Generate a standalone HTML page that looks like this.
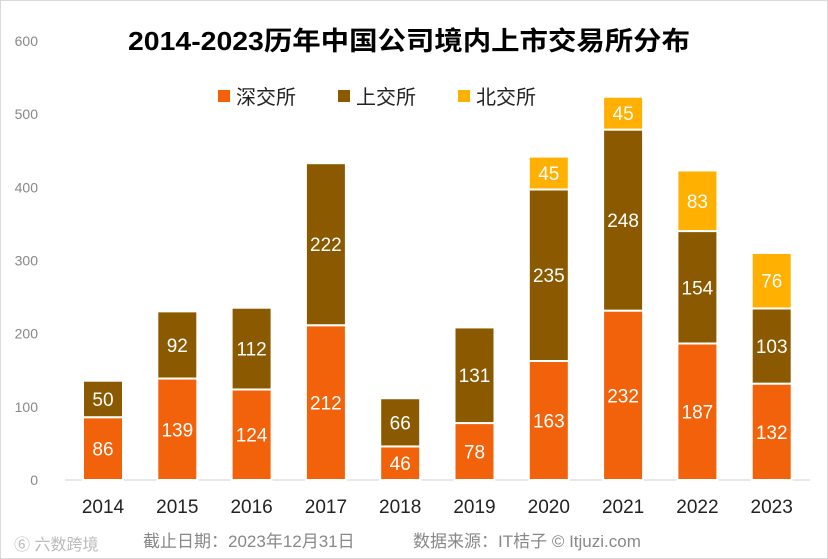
<!DOCTYPE html>
<html><head><meta charset="utf-8"><style>
body{margin:0;background:#fff;}
svg{display:block;font-family:"Liberation Sans","Noto Sans CJK SC",sans-serif;}
</style></head><body>
<svg id="c" width="828" height="559">
<rect x="0.5" y="0.5" width="827" height="558" fill="#fff" stroke="#d9d9d9"/>
<text x="128" y="50" textLength="562" lengthAdjust="spacingAndGlyphs" font-size="26" font-weight="bold" fill="#000">2014-2023历年中国公司境内上市交易所分布</text>
<g>
<g><rect x="218" y="90" width="12" height="12" fill="#f2620a"/><text x="236" y="104" font-size="20" fill="#222">深交所</text></g>
<g><rect x="338" y="90" width="12" height="12" fill="#8b5a00"/><text x="356" y="104" font-size="20" fill="#222">上交所</text></g>
<g><rect x="458" y="90" width="12" height="12" fill="#ffb000"/><text x="476" y="104" font-size="20" fill="#222">北交所</text></g>
</g>
<g id="axes"></g><g id="bars"></g>
<text x="143" y="547" font-size="17" fill="#888">截止日期：2023年12月31日</text>
<text x="413" y="547" font-size="17" fill="#888">数据来源：IT桔子 © Itjuzi.com</text>
<text x="14" y="550" font-size="16" fill="#bbb">⑥ 六数跨境</text>
</svg>
<script>
const years=["2014","2015","2016","2017","2018","2019","2020","2021","2022","2023"];
const szse=[86,139,124,212,46,78,163,232,187,132];
const sse=[50,92,112,222,66,131,235,248,154,103];
const bse=[0,0,0,0,0,0,45,45,83,76];
const yTicks=[0,100,200,300,400,500,600];
const NS="http://www.w3.org/2000/svg";
const y0=480,yScale=(480-42)/600;
const y=v=>y0-v*yScale;
const x=i=>103+i*74.3;
const bw=40;
function mk(tag,attrs,parent,txt){const e=document.createElementNS(NS,tag);for(const k in attrs)e.setAttribute(k,attrs[k]);if(txt!==undefined)e.textContent=txt;parent.appendChild(e);return e;}
const ax=document.getElementById('axes'),bars=document.getElementById('bars');
yTicks.forEach(t=>{const e=mk('text',{x:38,y:480-t*(480-41)/600+5,'text-anchor':'end','font-size':14,fill:'#888'},ax,t);

});
const base=mk('line',{x1:65,x2:810,y1:y0,y2:y0,stroke:'#d0d0d0'},ax);


years.forEach((yr,i)=>{const e=mk('text',{x:x(i),y:513,'text-anchor':'middle','font-size':19,fill:'#222'},ax,yr);


let acc=0;
[[szse,'#f2620a','szse'],[sse,'#8b5a00','sse'],[bse,'#ffb000','bse']].forEach(([arr,col,nm])=>{
const v=arr[i];if(!v)return;
const top=y(acc+v),bot=y(acc);
const r=mk('rect',{x:x(i)-bw/2,y:top,width:bw,height:bot-top,fill:col,stroke:'#fff','stroke-width':2},bars);


const t=mk('text',{x:x(i),y:(top+bot)/2+7,'text-anchor':'middle','font-size':19,fill:'#fff'},bars,v);


acc+=v;});});
</script>
</body></html>
